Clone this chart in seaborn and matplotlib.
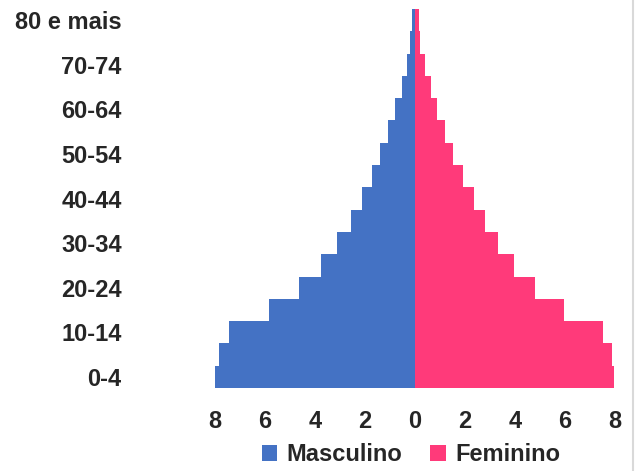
import matplotlib
matplotlib.use("Agg")
import matplotlib.pyplot as plt
from matplotlib.lines import Line2D
from matplotlib.patches import Patch
import seaborn as sns
import pandas as pd

age_groups = ["0-4", "5-9", "10-14", "15-19", "20-24", "25-29", "30-34", "35-39",
              "40-44", "45-49", "50-54", "55-59", "60-64", "65-69", "70-74", "75-79",
              "80 e mais"]
masculino = [8.0, 7.83, 7.44, 5.85, 4.63, 3.77, 3.11, 2.57, 2.13, 1.73, 1.39, 1.07,
             0.80, 0.53, 0.33, 0.21, 0.12]
feminino = [7.97, 7.89, 7.53, 5.97, 4.80, 3.97, 3.33, 2.81, 2.36, 1.92, 1.53, 1.19,
            0.88, 0.64, 0.40, 0.21, 0.16]
shown_labels = ["0-4", "10-14", "20-24", "30-34", "40-44", "50-54", "60-64", "70-74", "80 e mais"]
x_ticks = [-8, -6, -4, -2, 0, 2, 4, 6, 8]

blue = "#4472C4"
pink = "#FF3A7A"

df = pd.concat([
    pd.DataFrame({"Idade": age_groups, "Valor": [-v for v in masculino], "Sexo": "Masculino"}),
    pd.DataFrame({"Idade": age_groups, "Valor": feminino, "Sexo": "Feminino"}),
])

sns.set_style("white")
plt.rcParams["font.family"] = ["Liberation Sans", "DejaVu Sans"]

fig = plt.figure(figsize=(6.38, 4.71), dpi=100)
ax = fig.add_axes([205 / 638, (471 - 388) / 471, 420 / 638, 379 / 471])

order = list(reversed(age_groups))
sns.barplot(data=df, x="Valor", y="Idade", hue="Sexo", order=order, orient="h",
            dodge=False, width=1.0, palette={"Masculino": blue, "Feminino": pink},
            linewidth=0, saturation=1, legend=False, ax=ax)

ax.set_xlim(-8.4, 8.4)
ax.set_ylim(len(order) - 0.5, -0.5)
ax.set_xticks(x_ticks)
ax.set_xticklabels([str(abs(t)) for t in x_ticks], fontsize=17, fontweight="bold")
ax.set_yticks([order.index(l) for l in shown_labels])
ax.set_yticklabels(shown_labels, fontsize=17, fontweight="bold")
ax.tick_params(axis="both", length=0)
ax.tick_params(axis="y", pad=60)
ax.tick_params(axis="x", pad=16)
ax.set_xlabel("")
ax.set_ylabel("")
for s in ax.spines.values():
    s.set_visible(False)

handles = [Patch(facecolor=blue, edgecolor="none", label="Masculino"),
           Patch(facecolor=pink, edgecolor="none", label="Feminino")]
fig.legend(handles=handles, loc="center", bbox_to_anchor=(0.644, 0.034), ncol=2,
           frameon=False, prop={"size": 17, "weight": "bold"},
           handlelength=0.65, handleheight=0.65, handletextpad=0.4, columnspacing=1.2)

fig.add_artist(Line2D([632.5 / 638, 632.5 / 638], [0, 1], color="#D9D9D9", linewidth=1.5,
                      transform=fig.transFigure))

fig.savefig("out.png", dpi=100)
